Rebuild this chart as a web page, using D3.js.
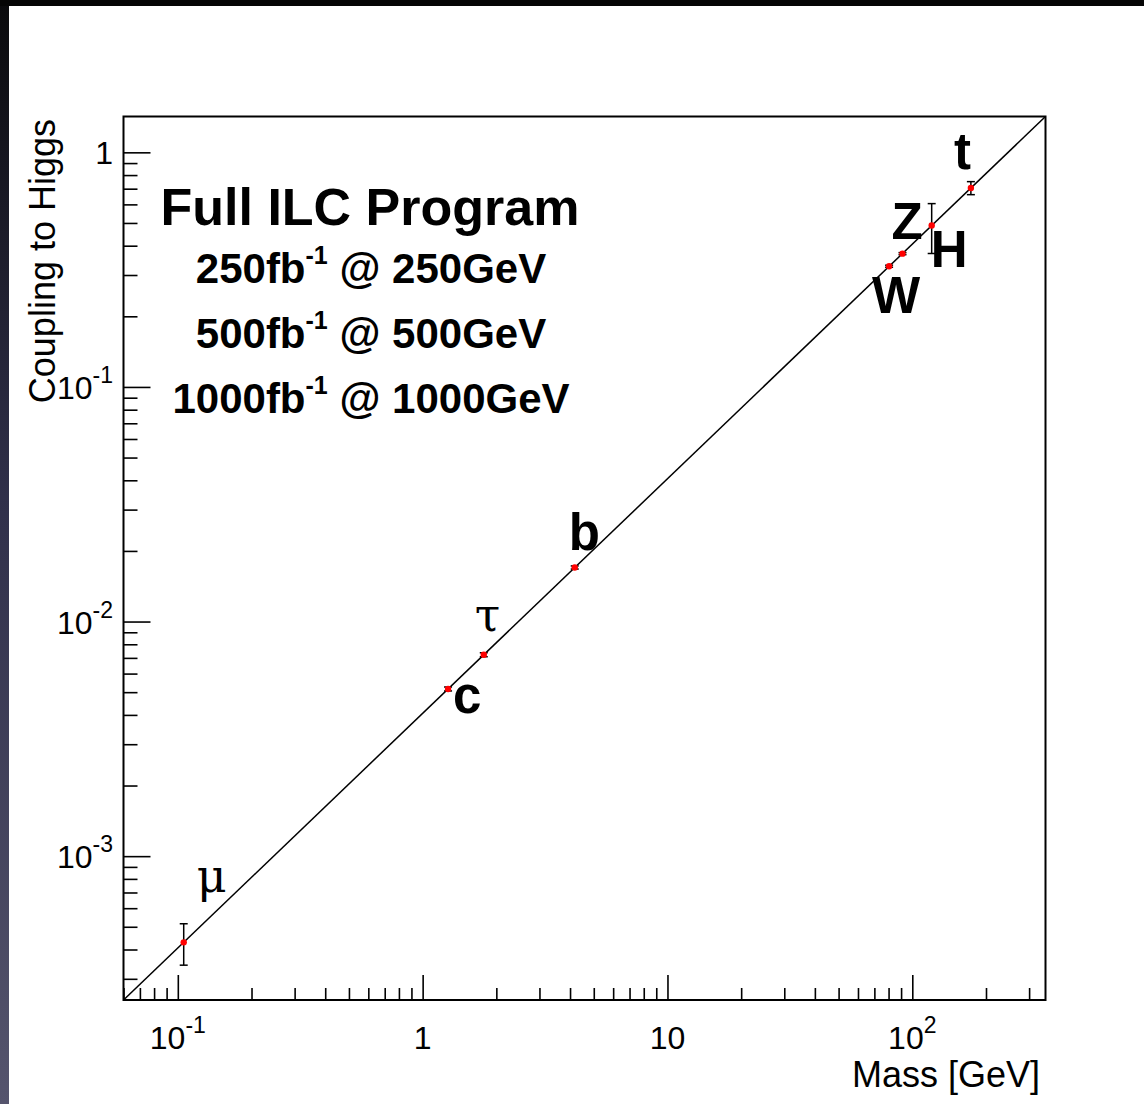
<!DOCTYPE html>
<html>
<head>
<meta charset="utf-8">
<script src="https://cdn.jsdelivr.net/npm/d3@7"></script>
<style>
  html, body { margin: 0; padding: 0; background: #fff; }
  svg { display: block; }
  text { font-family: "Liberation Sans", Arial, Helvetica, sans-serif; fill: #000; }
</style>
</head>
<body>
<svg id="chart" width="1144" height="1104"></svg>
<script>
// Fermion and boson couplings to the Higgs versus mass
const particles = ["μ", "c", "τ", "b", "W", "Z", "H", "t"];
const masses    = [0.1057, 1.27, 1.777, 4.18, 80.4, 91.19, 120, 173.5];
const couplings = [4.29e-4, 5.16e-3, 7.22e-3, 1.70e-2, 0.327, 0.370, 0.4875, 0.705];
const errors    = [0.86e-4, 1.0e-4, 1.4e-4, 2.6e-4, 0.0033, 0.0037, 0.117, 0.045];

// Standard Model expectation: coupling = mass / v
const vev = 246.22;
const massRange = [0.06, 350];

// Axis ticks
const xMajor = [0.1, 1, 10, 100];
const xMajorLabels = [["10", "-1"], ["1", ""], ["10", ""], ["10", "2"]];
const yMajor = [1e-3, 1e-2, 1e-1, 1];
const yMajorLabels = [["10", "-3"], ["10", "-2"], ["10", "-1"], ["1", ""]];

// Caption lines
const titleText = "Full ILC Program";
const stages = [["250fb", "-1", " @ 250GeV"], ["500fb", "-1", " @ 500GeV"], ["1000fb", "-1", " @ 1000GeV"]];

const W = 1144, H = 1104;
const frame = { left: 123.5, top: 116.5, right: 1045.5, bottom: 1000 };

const svg = d3.select("#chart");

// slide background edges
const defs = svg.append("defs");
const grad = defs.append("linearGradient").attr("id", "edge").attr("x1", 0).attr("y1", 0).attr("x2", 0).attr("y2", 1);
grad.append("stop").attr("offset", "0%").attr("stop-color", "#0a0a0c");
grad.append("stop").attr("offset", "45%").attr("stop-color", "#30304a");
grad.append("stop").attr("offset", "100%").attr("stop-color", "#55546d");
svg.append("rect").attr("x", 0).attr("y", 0).attr("width", 9).attr("height", H).attr("fill", "url(#edge)");
svg.append("rect").attr("x", 0).attr("y", 0).attr("width", W).attr("height", 6).attr("fill", "#050505");

const x = d3.scaleLog().domain(massRange).range([frame.left, frame.right]);
const y = d3.scaleLog().domain(massRange.map(m => m / vev)).range([frame.bottom, frame.top]);

defs.append("clipPath").attr("id", "plotArea").append("rect")
  .attr("x", frame.left).attr("y", frame.top)
  .attr("width", frame.right - frame.left).attr("height", frame.bottom - frame.top);

// minor tick values per decade
function minors(scale) {
  const [a, b] = scale.domain();
  const out = [];
  for (let e = Math.floor(Math.log10(a)); e <= Math.ceil(Math.log10(b)); e++) {
    for (let k = 2; k <= 9; k++) {
      const v = k * Math.pow(10, e);
      if (v >= a && v <= b) out.push(v);
    }
  }
  return out;
}

function styleTicks(g) {
  g.select(".domain").remove();
  g.selectAll("line").attr("stroke", "#000").attr("stroke-width", 1.6);
}

// x axis ticks (pointing into the frame)
svg.append("g").attr("transform", `translate(0,${frame.bottom})`)
  .call(d3.axisBottom(x).tickValues(xMajor).tickSize(-25).tickFormat(""))
  .call(styleTicks);
svg.append("g").attr("transform", `translate(0,${frame.bottom})`)
  .call(d3.axisBottom(x).tickValues(minors(x)).tickSize(-12).tickFormat(""))
  .call(styleTicks);

// y axis ticks
svg.append("g").attr("transform", `translate(${frame.left},0)`)
  .call(d3.axisLeft(y).tickValues(yMajor).tickSize(-27).tickFormat(""))
  .call(styleTicks);
svg.append("g").attr("transform", `translate(${frame.left},0)`)
  .call(d3.axisLeft(y).tickValues(minors(y)).tickSize(-14).tickFormat(""))
  .call(styleTicks);

// tick labels with exponent superscripts
function powerLabel(sel, parts) {
  sel.append("tspan").text(parts[0]);
  if (parts[1]) sel.append("tspan").attr("font-size", 23).attr("dy", -16).text(parts[1]);
}
xMajor.forEach((v, i) => {
  const t = svg.append("text").attr("x", x(v)).attr("y", 1049)
    .attr("text-anchor", "middle").attr("font-size", 32);
  powerLabel(t, xMajorLabels[i]);
});
yMajor.forEach((v, i) => {
  const t = svg.append("text").attr("x", 113).attr("y", y(v) + 12)
    .attr("text-anchor", "end").attr("font-size", 32);
  powerLabel(t, yMajorLabels[i]);
});

// axis titles
svg.append("text").attr("x", 1040).attr("y", 1087).attr("text-anchor", "end")
  .attr("font-size", 36).text("Mass [GeV]");
svg.append("text").attr("transform", "translate(55,119) rotate(-90)")
  .attr("text-anchor", "end").attr("font-size", 36).text("Coupling to Higgs");

// SM line
svg.append("path")
  .attr("clip-path", "url(#plotArea)")
  .attr("d", d3.line().x(d => x(d)).y(d => y(d / vev))(massRange))
  .attr("stroke", "#000").attr("stroke-width", 1.5).attr("fill", "none");

// frame
svg.append("rect")
  .attr("x", frame.left).attr("y", frame.top)
  .attr("width", frame.right - frame.left).attr("height", frame.bottom - frame.top)
  .attr("fill", "none").attr("stroke", "#000").attr("stroke-width", 2);

// measurements with error bars
const pts = particles.map((p, i) => ({ p, m: masses[i], c: couplings[i], e: errors[i] }));
const gp = svg.append("g");
pts.forEach(d => {
  const cx = x(d.m), y1 = y(d.c + d.e), y0 = y(d.c - d.e);
  gp.append("line").attr("x1", cx).attr("x2", cx).attr("y1", y1).attr("y2", y0)
    .attr("stroke", "#000").attr("stroke-width", 1.5);
  [y1, y0].forEach(yy => gp.append("line").attr("x1", cx - 4).attr("x2", cx + 4)
    .attr("y1", yy).attr("y2", yy).attr("stroke", "#000").attr("stroke-width", 1.5));
});
gp.selectAll("circle").data(pts).join("circle")
  .attr("cx", d => x(d.m)).attr("cy", d => y(d.c)).attr("r", 3.2)
  .attr("fill", "#ff0000");

// particle names placed around their points
const nameStyle = {
  "μ": { dx: 13, dy: -50, serif: true },
  "c": { dx: 5, dy: 24 },
  "τ": { dx: -9, dy: -24, serif: true },
  "b": { dx: -6, dy: -17 },
  "W": { dx: -17, dy: 47 },
  "Z": { dx: -11, dy: -15 },
  "H": { dx: -1, dy: 41 },
  "t": { dx: -17, dy: -19 }
};
svg.append("g").selectAll("text").data(pts).join("text")
  .attr("x", d => x(d.m) + nameStyle[d.p].dx)
  .attr("y", d => y(d.c) + nameStyle[d.p].dy)
  .attr("font-size", d => nameStyle[d.p].serif ? 46 : 51)
  .attr("font-weight", d => nameStyle[d.p].serif ? "normal" : "bold")
  .style("font-family", d => nameStyle[d.p].serif ? "'DejaVu Serif', 'Liberation Serif', serif" : null)
  .text(d => d.p);

// caption
svg.append("text").attr("x", 370).attr("y", 225).attr("text-anchor", "middle")
  .attr("font-size", 52).attr("font-weight", "bold").text(titleText);
stages.forEach((s, i) => {
  const t = svg.append("text").attr("x", 371).attr("y", 283 + i * 65)
    .attr("text-anchor", "middle").attr("font-size", 42).attr("font-weight", "bold");
  t.append("tspan").text(s[0]);
  t.append("tspan").attr("font-size", 25).attr("dy", -19).text(s[1]);
  t.append("tspan").attr("dy", 19).text(s[2]);
});
</script>
</body>
</html>
